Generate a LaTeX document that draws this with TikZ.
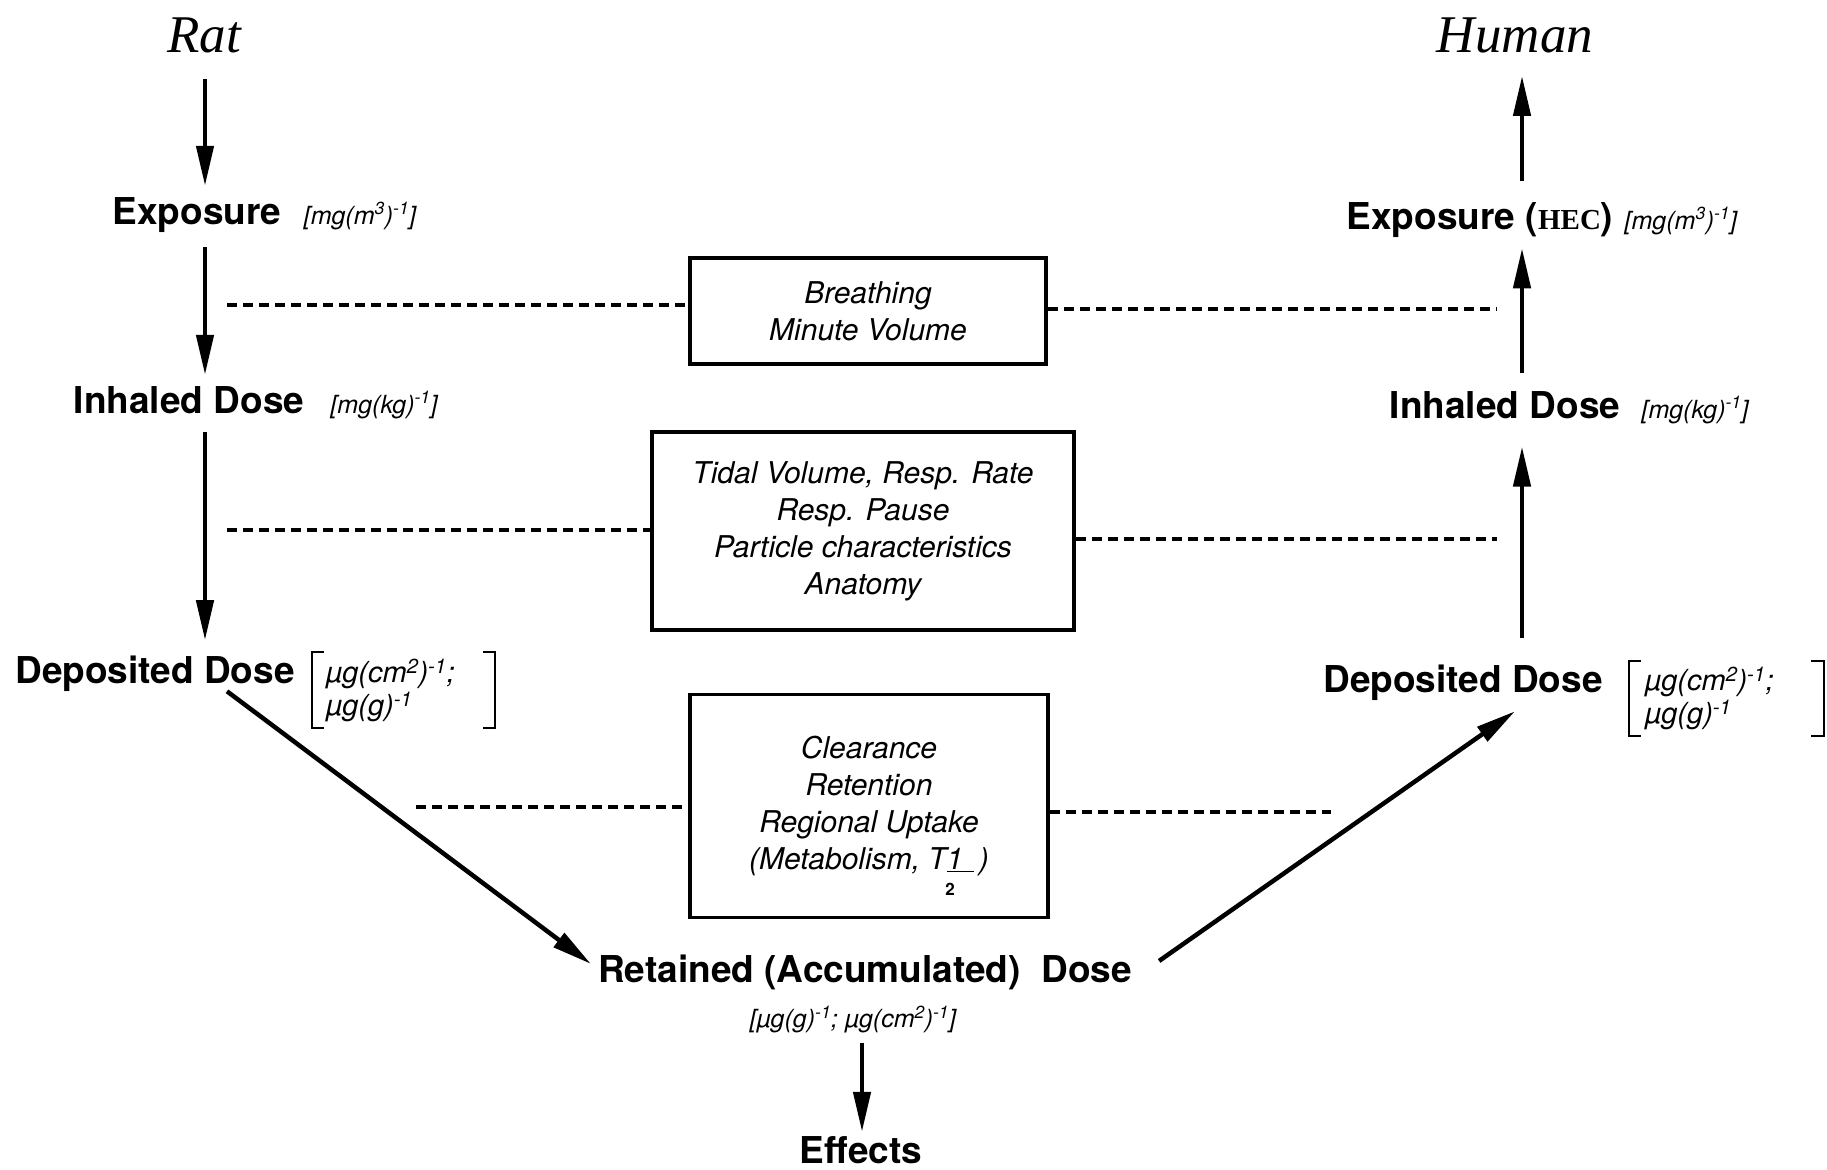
\documentclass[tikz,border=0pt]{standalone}
\usepackage{fontspec}
\setmainfont{TeX Gyre Heros}
\newfontfamily\titlefont{Liberation Serif}
\usetikzlibrary{arrows.meta,calc}
\begin{document}
\begin{tikzpicture}[x=1pt,y=-1pt,
 lab/.style={font=\fontsize{37}{40}\selectfont\bfseries, inner sep=0pt, anchor=base},
 unitt/.style={font=\fontsize{25}{28}\selectfont\itshape, inner sep=0pt, anchor=base west},
 brt/.style={font=\fontsize{29}{33}\selectfont\itshape, inner sep=0pt, align=left, anchor=north west},
 ttl/.style={font=\titlefont\itshape\fontsize{53}{60}\selectfont, inner sep=0pt},
 pbox/.style={draw, line width=3.5pt, font=\fontsize{30}{37}\selectfont\itshape, align=center, inner sep=0pt},
 arr/.style={line width=4.5pt, -{Triangle[length=40pt,width=17pt]}},
 dsh/.style={line width=3.5pt, dash pattern=on 10pt off 6pt},
 brk/.style={line width=2.5pt},
]
\useasboundingbox (0,0) rectangle (1827,1169);
\fill[white] (0,0) rectangle (1827,1169);

% titles
\node[ttl] (rat) at (204,35) {Rat};
\node[ttl] (human) at (1515,35) {Human};

% left column
\node[lab] (exp) at (197,224) {Exposure};
\node[unitt] (expu) at ($(exp.base east)+(22,0)$) {[mg(m\textsuperscript{3})\textsuperscript{-1}]};
\node[lab] (inh) at (189,413) {Inhaled Dose};
\node[unitt] (inhu) at ($(inh.base east)+(26,0)$) {[mg(kg)\textsuperscript{-1}]};
\node[lab] (dep) at (155,683) {Deposited Dose};
\node[brt] (depu) at (326,659) {µg(cm\textsuperscript{2})\textsuperscript{-1};\\µg(g)\textsuperscript{-1}};
\draw[brk] (324,652) -- (312,652) -- (312,728) -- (324,728);
\draw[brk] (483,652) -- (495,652) -- (495,728) -- (483,728);

% right column
\node[lab] (depR) at (1463,692) {Deposited Dose};
\node[brt] (depRu) at (1645,667) {µg(cm\textsuperscript{2})\textsuperscript{-1};\\µg(g)\textsuperscript{-1}};
\draw[brk] (1641,661) -- (1629,661) -- (1629,736) -- (1641,736);
\draw[brk] (1811,661) -- (1824,661) -- (1824,736) -- (1811,736);
\node[lab] (inhR) at (1505,418) {Inhaled Dose};
\node[unitt] (inhRu) at ($(inhR.base east)+(21,0)$) {[mg(kg)\textsuperscript{-1}]};
\node[lab] (expR) at (1480,229) {Exposure ({\titlefont\fontsize{29}{30}\selectfont HEC})};
\node[unitt] (expRu) at ($(expR.base east)+(11,0)$) {[mg(m\textsuperscript{3})\textsuperscript{-1}]};

% boxes
\node[pbox, minimum width=356pt, minimum height=106pt] (box1) at (868,311) {Breathing\\Minute Volume};
\node[pbox, minimum width=422pt, minimum height=198pt] (box2) at (863,531) {Tidal Volume, Resp. Rate\\Resp. Pause\\Particle characteristics\\Anatomy};
\node[pbox, minimum width=358pt, minimum height=223pt] (box3) at (869,806) {Clearance\\Retention\\Regional Uptake\\(Metabolism, T\underline{1\hspace{0.35em}}\,)};
\node[font=\fontsize{17}{20}\selectfont\bfseries, inner sep=0pt] (half) at (950,889) {2};

% bottom
\node[lab] (ret) at (865,982) {Retained (Accumulated)\ \ Dose};
\node[font=\fontsize{25}{28}\selectfont\itshape, inner sep=0pt] (retu) at (853,1020) {[µg(g)\textsuperscript{-1}; µg(cm\textsuperscript{2})\textsuperscript{-1}]};
\node[lab] (eff) at (861,1163) {Effects};

% arrows
\coordinate (lx) at (205,0);
\coordinate (rx) at (1522,0);
\draw[arr] ($(lx |- rat.south)+(0,26)$) -- ($(lx |- exp.north)+(0,-11)$);
\draw[arr] ($(lx |- exp.south)+(0,15)$) -- ($(lx |- inh.north)+(0,-11)$);
\draw[arr] ($(lx |- inh.south)+(0,18)$) -- ($(lx |- dep.north)+(0,-15)$);
\draw[arr] ($(dep.south)+(72,0)$) -- ($(ret.west)+(-7,-8)$);
\draw[arr] ($(retu.south)+(9,9)$) -- ($(retu.south |- eff.north)+(9,-4)$);
\draw[arr] ($(ret.east)+(27,-11)$) -- ($(depR.south)+(52,11)$);
\draw[arr] ($(rx |- depR.north)+(0,-26)$) -- ($(rx |- inhR.south)+(0,28)$);
\draw[arr] ($(rx |- inhR.north)+(0,-18)$) -- ($(rx |- expR.south)+(0,11)$);
\draw[arr] ($(rx |- expR.north)+(0,-21)$) -- ($(rx |- human.south)+(0,23)$);

% dashed links
\coordinate (d1l) at (227,305); \coordinate (d1r) at (1497,309);
\coordinate (d2l) at (227,530); \coordinate (d2r) at (1497,539);
\coordinate (d3l) at (416,807); \coordinate (d3r) at (1331,812);
\draw[dsh] (d1l) -- (d1l -| box1.west);
\draw[dsh] (box1.east |- d1r) -- (d1r);
\draw[dsh] (d2l) -- (d2l -| box2.west);
\draw[dsh] (box2.east |- d2r) -- (d2r);
\draw[dsh] (d3l) -- (d3l -| box3.west);
\draw[dsh] (box3.east |- d3r) -- (d3r);
\end{tikzpicture}
\end{document}
